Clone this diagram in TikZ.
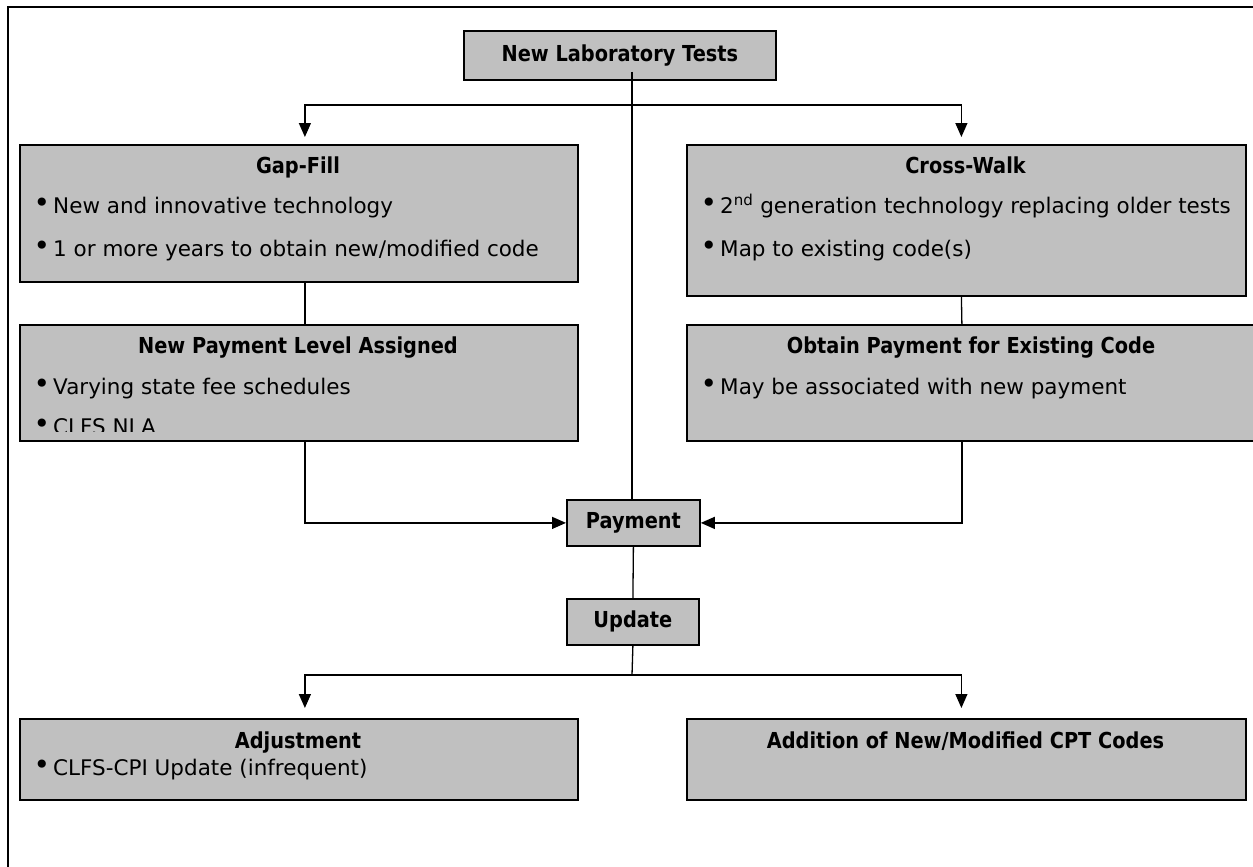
\documentclass[tikz,border=0pt]{standalone}
\usepackage{fontspec}
\setmainfont{DejaVu Sans}
\newfontfamily\ttlfont{DejaVu Sans}[FakeStretch=0.88]
\usetikzlibrary{arrows.meta}
\definecolor{panelgray}{HTML}{C0C0C0}
\newcommand{\dotmark}{\makebox[0pt][r]{\raisebox{1pt}{\fontsize{28}{28}\selectfont\textbullet}\hspace{3pt}}}

\begin{document}
\begin{tikzpicture}[x=1pt,y=-1pt,
    panel/.style={draw=black, line width=1.8pt, fill=panelgray, anchor=north west, inner sep=0pt},
    ttl/.style={font=\ttlfont\bfseries\fontsize{22}{26}\selectfont, inner sep=0pt},
    item/.style={font=\fontsize{21.5}{26}\selectfont, anchor=base west, inner sep=0pt},
    link/.style={line width=1.3pt},
    feed/.style={link, -{Triangle[width=12pt,length=14pt]}}]
\useasboundingbox (0,0) rectangle (1253,867);
\clip (0,0) rectangle (1253,867);
\draw[line width=2pt] (8,7) rectangle (1275,890);

% top and middle boxes
\node[panel, ttl, minimum width=312pt, minimum height=49pt] (lab) at (463,30) {New Laboratory Tests};
\node[panel, ttl, minimum width=133pt, minimum height=46pt] (pay) at (566,499) {Payment};
\node[panel, ttl, minimum width=132pt, minimum height=46pt] (upd) at (566,598) {Update};

% left column
\node[panel, minimum width=558pt, minimum height=137pt] (gap) at (19,144) {};
\node[ttl, anchor=base] (gapT) at (298,173) {Gap-Fill};
\node[item] (gap1) at (53,213) {\dotmark New and innovative technology};
\node[item] (gap2) at (53,256) {\dotmark 1 or more years to obtain new/modified code};

\node[panel, minimum width=558pt, minimum height=116pt] (npl) at (19,324) {};
\node[ttl, anchor=base] (nplT) at (298,353) {New Payment Level Assigned};
\node[item] (npl1) at (53,394) {\dotmark Varying state fee schedules};
\begin{scope}
  \clip (npl.north west) rectangle ([yshift=10pt]npl.south east);
  \node[item] (npl2) at (53,434) {\dotmark CLFS NLA};
\end{scope}

\node[panel, minimum width=558pt, minimum height=81pt] (adj) at (19,718) {};
\node[ttl, anchor=base] (adjT) at (298,748) {Adjustment};
\node[item] (adj1) at (53,775) {\dotmark CLFS-CPI Update (infrequent)};

% right column
\node[panel, minimum width=559pt, minimum height=151pt] (cross) at (686,144) {};
\node[ttl, anchor=base] (crossT) at (965.5,173) {Cross-Walk};
\node[item] (cross1) at (720,213) {\dotmark 2\textsuperscript{nd} generation technology replacing older tests};
\node[item] (cross2) at (720,256) {\dotmark Map to existing code(s)};

\node[panel, minimum width=572pt, minimum height=116pt] (obt) at (686,324) {};
\node[ttl, anchor=base] (obtT) at (971,353) {Obtain Payment for Existing Code};
\node[item] (obt1) at (720,394) {\dotmark May be associated with new payment};

\node[panel, minimum width=559pt, minimum height=81pt] (add) at (686,718) {};
\node[ttl, anchor=base] (addT) at (965.5,748) {Addition of New/Modified CPT Codes};

% connectors
\coordinate (labfoot) at (632,72);
\coordinate (splitT) at (632,105);
\coordinate (splitB) at (632,675);
\draw[link] (labfoot) -- (labfoot |- pay.north);
\draw[feed, shorten >=7pt] (splitT) -| ([xshift=6pt]gap.north);
\draw[feed, shorten >=7pt] (splitT) -| ([xshift=-5pt]cross.north);
\draw[link] ([xshift=6pt]gap.south) -- ([xshift=6pt]npl.north);
\draw[link] ([xshift=-5pt]cross.south) -- ([xshift=-11pt]obt.north);
\draw[feed] ([xshift=6pt]npl.south) |- (pay.west);
\draw[feed] ([xshift=-11pt]obt.south) |- (pay.east);
\draw[link] (pay.south) -- (upd.north);
\draw[link] (upd.south) -- (splitB);
\draw[feed, shorten >=10pt] (splitB) -| ([xshift=6pt]adj.north);
\draw[feed, shorten >=10pt] (splitB) -| ([xshift=-5pt]add.north);
\end{tikzpicture}
\end{document}
